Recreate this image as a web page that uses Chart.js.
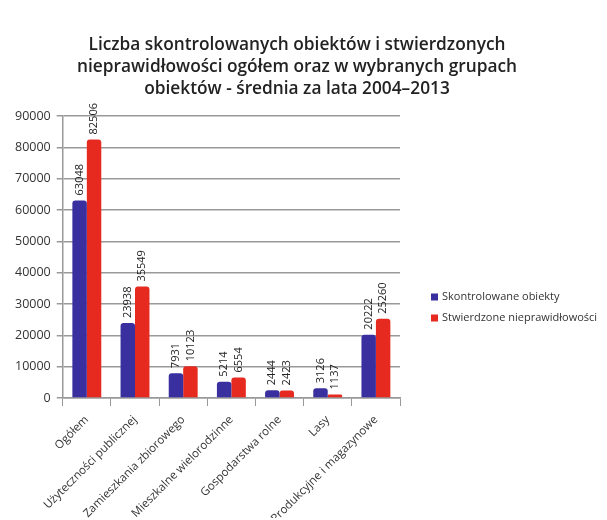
<!DOCTYPE html>
<html lang="pl">
<head>
<meta charset="UTF-8">
<title>Liczba skontrolowanych obiektów</title>
<style>
  html, body { margin: 0; padding: 0; background: #fff; }
  #wrap { width: 607px; height: 520px; }
</style>
</head>
<body>
<div id="wrap"><canvas id="chart" width="607" height="520"></canvas></div>
<script src="https://cdn.jsdelivr.net/npm/chart.js"></script>
<script>
const categories = ['Ogółem', 'Użyteczności publicznej', 'Zamieszkania zbiorowego', 'Mieszkalne wielorodzinne',
  'Gospodarstwa rolne', 'Lasy', 'Produkcyjne i magazynowe'];
const skontrolowane = [63048, 23938, 7931, 5214, 2444, 3126, 20222];
const stwierdzone = [82506, 35549, 10123, 6554, 2423, 1137, 25260];
const seriesNames = ['Skontrolowane obiekty', 'Stwierdzone nieprawidłowości'];
const titleLines = ['Liczba skontrolowanych obiektów i stwierdzonych',
  'nieprawidłowości ogółem oraz w wybranych grupach',
  'obiektów - średnia za lata 2004–2013'];

const FONT = '"Open Sans", Lato, sans-serif';

// title centred on the whole canvas, not only on the plot
const canvasTitle = {
  id: 'canvasTitle',
  afterDraw(chart) {
    const ctx = chart.ctx;
    ctx.save();
    ctx.font = '600 17.3px ' + FONT;
    ctx.fillStyle = '#222';
    ctx.textAlign = 'center';
    ctx.textBaseline = 'middle';
    titleLines.forEach((line, i) => ctx.fillText(line, 297, 45 + i * 22));
    ctx.restore();
  }
};

// value labels written vertically above each bar
const valueLabels = {
  id: 'valueLabels',
  afterDatasetsDraw(chart) {
    const ctx = chart.ctx;
    ctx.save();
    ctx.font = '11px ' + FONT;
    ctx.fillStyle = '#222';
    ctx.textAlign = 'left';
    ctx.textBaseline = 'middle';
    chart.data.datasets.forEach((ds, i) => {
      chart.getDatasetMeta(i).data.forEach((bar, j) => {
        ctx.save();
        ctx.translate(bar.x, bar.y - 5);
        ctx.rotate(-Math.PI / 2);
        ctx.fillText(String(ds.data[j]), 0, 0);
        ctx.restore();
      });
    });
    ctx.restore();
  }
};

// legend on the right, lower than the plot middle
const sideLegend = {
  id: 'sideLegend',
  afterDraw(chart) {
    const ctx = chart.ctx;
    ctx.save();
    ctx.font = '11px ' + FONT;
    ctx.textBaseline = 'middle';
    chart.data.datasets.forEach((ds, i) => {
      const y = 297 + i * 21;
      ctx.fillStyle = ds.backgroundColor;
      ctx.fillRect(431, y - 3.5, 7, 7);
      ctx.fillStyle = '#333';
      ctx.fillText(ds.label, 442, y);
    });
    ctx.restore();
  }
};

new Chart(document.getElementById('chart'), {
  type: 'bar',
  data: {
    labels: categories,
    datasets: [
      { label: seriesNames[0], data: skontrolowane, backgroundColor: '#3a2f9e', borderRadius: 3 },
      { label: seriesNames[1], data: stwierdzone, backgroundColor: '#e62a20', borderRadius: 3 }
    ]
  },
  options: {
    responsive: false,
    animation: false,
    layout: { padding: { left: 9, right: 207, top: 116, bottom: 2 } },
    datasets: { bar: { categoryPercentage: 0.6, barPercentage: 1.0 } },
    plugins: {
      legend: { display: false },
      tooltip: { enabled: false },
      title: { display: false }
    },
    scales: {
      x: {
        grid: { display: true, drawOnChartArea: false, color: '#999', tickLength: 8 },
        border: { color: '#999', width: 1.5 },
        ticks: {
          color: '#333',
          font: { family: FONT, size: 11.5 },
          maxRotation: 45,
          minRotation: 45,
          padding: 7
        },
        // label strip is allowed to run off the bottom edge
        afterFit: scale => { scale.height = 120; }
      },
      y: {
        min: 0,
        max: 90000,
        ticks: {
          stepSize: 10000,
          color: '#333',
          font: { family: FONT, size: 12.5 },
          padding: 6,
          callback: v => String(v)
        },
        grid: { color: '#999', lineWidth: 1.5, tickLength: 6 },
        border: { color: '#999', width: 1.5 }
      }
    }
  },
  plugins: [canvasTitle, valueLabels, sideLegend]
});
</script>
</body>
</html>
